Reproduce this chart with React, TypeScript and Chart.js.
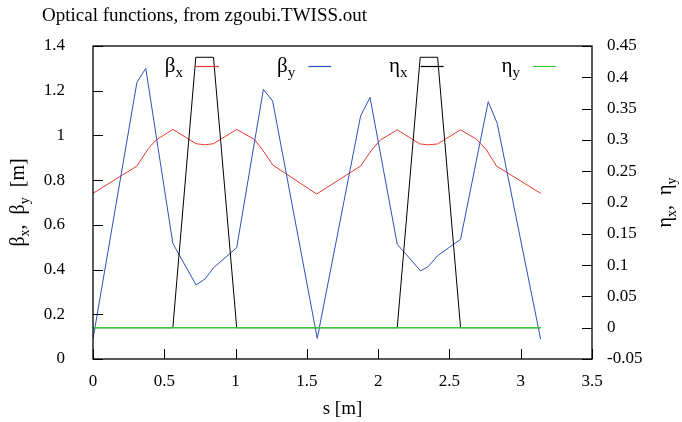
import { useEffect, useRef } from "react";
import { Chart, registerables } from "chart.js";

Chart.register(...registerables);

const TITLE = "Optical functions, from zgoubi.TWISS.out";

// beta_x (left axis)
const sBetaX = [0, 0.308, 0.389, 0.443, 0.56, 0.723, 0.784, 0.845, 1.008, 1.13, 1.19, 1.26, 1.569, 1.877, 1.954, 2.017, 2.134, 2.293, 2.355, 2.417, 2.578, 2.69, 2.76, 2.83, 3.14];
const betaX = [0.741, 0.863, 0.942, 0.98, 1.027, 0.963, 0.958, 0.963, 1.027, 0.983, 0.935, 0.868, 0.738, 0.863, 0.935, 0.98, 1.025, 0.962, 0.958, 0.962, 1.025, 0.983, 0.935, 0.863, 0.741];

// beta_y (left axis)
const sBetaY = [0, 0.308, 0.37, 0.56, 0.723, 0.786, 0.845, 1.008, 1.195, 1.26, 1.573, 1.877, 1.943, 2.134, 2.298, 2.35, 2.417, 2.578, 2.772, 2.835, 3.14];
const betaY = [0.09, 1.237, 1.3, 0.517, 0.331, 0.358, 0.408, 0.498, 1.206, 1.154, 0.092, 1.087, 1.17, 0.513, 0.394, 0.413, 0.462, 0.535, 1.151, 1.054, 0.088];

// eta_x (right axis)
const sEtaX = [0, 0.56, 0.721, 0.845, 1.008, 2.134, 2.295, 2.417, 2.578, 3.14];
const etaX = [0, 0, 0.432, 0.432, 0, 0, 0.432, 0.432, 0, 0];

// eta_y (right axis)
const sEtaY = [0, 3.14];
const etaY = [0, 0];

const X_RANGE = [0, 3.5, 0.5];
const Y_RANGE = [0, 1.4, 0.2];
const Y2_RANGE = [-0.05, 0.45, 0.05];

const FONT = "'Liberation Serif', 'Times New Roman', serif";

const pts = (s: number[], v: number[]) => s.map((x, i) => ({ x, y: v[i] }));
const fmt = (v: any) => String(Number(Number(v).toFixed(3)));

type Part = { t: string; sub?: boolean };

function partsWidth(ctx: CanvasRenderingContext2D, parts: Part[], size: number) {
  let w = 0;
  for (const p of parts) {
    ctx.font = `${p.sub ? Math.round(size * 0.7) : size}px ${FONT}`;
    w += ctx.measureText(p.t).width;
  }
  return w;
}

function drawParts(ctx: CanvasRenderingContext2D, parts: Part[], x: number, y: number, size: number) {
  let cx = x;
  ctx.textBaseline = "alphabetic";
  ctx.textAlign = "left";
  for (const p of parts) {
    ctx.font = `${p.sub ? Math.round(size * 0.7) : size}px ${FONT}`;
    ctx.fillText(p.t, cx, y + (p.sub ? size * 0.25 : 0));
    cx += ctx.measureText(p.t).width;
  }
}

const decorPlugin = {
  id: "decor",
  afterDatasetsDraw(chart: any) {
    const ctx: CanvasRenderingContext2D = chart.ctx;
    const { left, right, top, bottom } = chart.chartArea;
    ctx.save();
    ctx.strokeStyle = "#000";
    ctx.lineWidth = 1.3;
    ctx.strokeRect(left, top, right - left, bottom - top);
    ctx.lineWidth = 1;
    const tl = 10;
    const xs = chart.scales.x;
    xs.ticks.forEach((_t: any, i: number) => {
      const px = Math.round(xs.getPixelForTick(i)) + 0.5;
      ctx.beginPath();
      ctx.moveTo(px, bottom);
      ctx.lineTo(px, bottom - tl);
      ctx.stroke();
    });
    const ys = chart.scales.y;
    ys.ticks.forEach((_t: any, i: number) => {
      const py = Math.round(ys.getPixelForTick(i)) + 0.5;
      ctx.beginPath();
      ctx.moveTo(left, py);
      ctx.lineTo(left + tl, py);
      ctx.stroke();
    });
    const y2 = chart.scales.y2;
    y2.ticks.forEach((_t: any, i: number) => {
      const py = Math.round(y2.getPixelForTick(i)) + 0.5;
      ctx.beginPath();
      ctx.moveTo(right, py);
      ctx.lineTo(right - tl, py);
      ctx.stroke();
    });
    ctx.restore();
  },
  afterDraw(chart: any) {
    const ctx: CanvasRenderingContext2D = chart.ctx;
    const { left, right, top, bottom } = chart.chartArea;
    ctx.save();
    ctx.fillStyle = "#000";
    // title
    ctx.font = `19px ${FONT}`;
    ctx.textAlign = "left";
    ctx.textBaseline = "alphabetic";
    ctx.fillText(TITLE, 42, 21);

    // x axis title
    ctx.font = `19px ${FONT}`;
    ctx.textAlign = "center";
    ctx.fillText("s [m]", (left + right) / 2, 414);

    // left axis title (rotated)
    const lp: Part[] = [{ t: "β" }, { t: "x", sub: true }, { t: ",  β" }, { t: "y", sub: true }, { t: "  [m]" }];
    const lw = partsWidth(ctx, lp, 20);
    ctx.save();
    ctx.translate(24, (top + bottom) / 2);
    ctx.rotate(-Math.PI / 2);
    drawParts(ctx, lp, -lw / 2, 0, 20);
    ctx.restore();

    // right axis title (rotated)
    const rp: Part[] = [{ t: "η" }, { t: "x", sub: true }, { t: ",  η" }, { t: "y", sub: true }];
    const rw = partsWidth(ctx, rp, 20);
    ctx.save();
    ctx.translate(671, (top + bottom) / 2);
    ctx.rotate(-Math.PI / 2);
    drawParts(ctx, rp, -rw / 2, 0, 20);
    ctx.restore();

    // legend: text then sample line
    const entries: { parts: Part[]; color: string }[] = chart.data.datasets.map((d: any) => ({
      parts: [{ t: d.label[0] }, { t: d.label.slice(1), sub: true }],
      color: d.borderColor,
    }));
    const ly = 66;
    entries.forEach((e, i) => {
      const sx = left + 103 + i * 112.3;
      const w = partsWidth(ctx, e.parts, 21);
      ctx.fillStyle = "#000";
      drawParts(ctx, e.parts, sx - 13 - w, ly + 6, 21);
      ctx.strokeStyle = e.color;
      ctx.lineWidth = 1.2;
      ctx.beginPath();
      ctx.moveTo(sx, ly + 0.5);
      ctx.lineTo(sx + 23, ly + 0.5);
      ctx.stroke();
    });
    ctx.restore();
  },
};

export default function App() {
  const ref = useRef<HTMLCanvasElement | null>(null);
  useEffect(() => {
    document.body.style.margin = "0";
    const canvas = ref.current;
    if (!canvas) return;
    const tickFont = { family: FONT, size: 17 };
    const chart = new Chart(canvas, {
      type: "line",
      data: {
        datasets: [
          { label: "βx", data: pts(sBetaX, betaX), borderColor: "#e8392e", borderWidth: 1, pointRadius: 0, yAxisID: "y", order: 4 },
          { label: "βy", data: pts(sBetaY, betaY), borderColor: "#3050b8", borderWidth: 1, pointRadius: 0, yAxisID: "y", order: 3 },
          { label: "ηx", data: pts(sEtaX, etaX), borderColor: "#000000", borderWidth: 1, pointRadius: 0, yAxisID: "y2", order: 2 },
          { label: "ηy", data: pts(sEtaY, etaY), borderColor: "#3cc43c", borderWidth: 1.5, pointRadius: 0, yAxisID: "y2", order: 1 },
        ],
      },
      options: {
        responsive: false,
        animation: false,
        devicePixelRatio: 1,
        parsing: false,
        layout: { padding: { top: 46, left: 0, right: 0, bottom: 0 } },
        plugins: { legend: { display: false }, tooltip: { enabled: false }, title: { display: false } },
        elements: { line: { tension: 0 } },
        scales: {
          x: {
            type: "linear",
            min: X_RANGE[0],
            max: X_RANGE[1],
            grid: { display: false },
            border: { display: false },
            ticks: { stepSize: X_RANGE[2], color: "#000", font: tickFont, padding: 4, maxRotation: 0, autoSkip: false, callback: fmt },
            afterFit: (s: any) => { s.height = 63; },
          },
          y: {
            type: "linear",
            position: "left",
            min: Y_RANGE[0],
            max: Y_RANGE[1],
            grid: { display: false },
            border: { display: false },
            ticks: { stepSize: Y_RANGE[2], color: "#000", font: tickFont, padding: 20, callback: fmt },
            afterFit: (s: any) => { s.width = 93; },
          },
          y2: {
            type: "linear",
            position: "right",
            min: Y2_RANGE[0],
            max: Y2_RANGE[1],
            grid: { display: false },
            border: { display: false },
            ticks: { stepSize: Y2_RANGE[2], color: "#000", font: tickFont, padding: 7, callback: fmt },
            afterFit: (s: any) => { s.width = 90; },
          },
        },
      },
      plugins: [decorPlugin],
    } as any);
    return () => chart.destroy();
  }, []);
  return <canvas ref={ref} width={682} height={422} style={{ display: "block" }} />;
}
